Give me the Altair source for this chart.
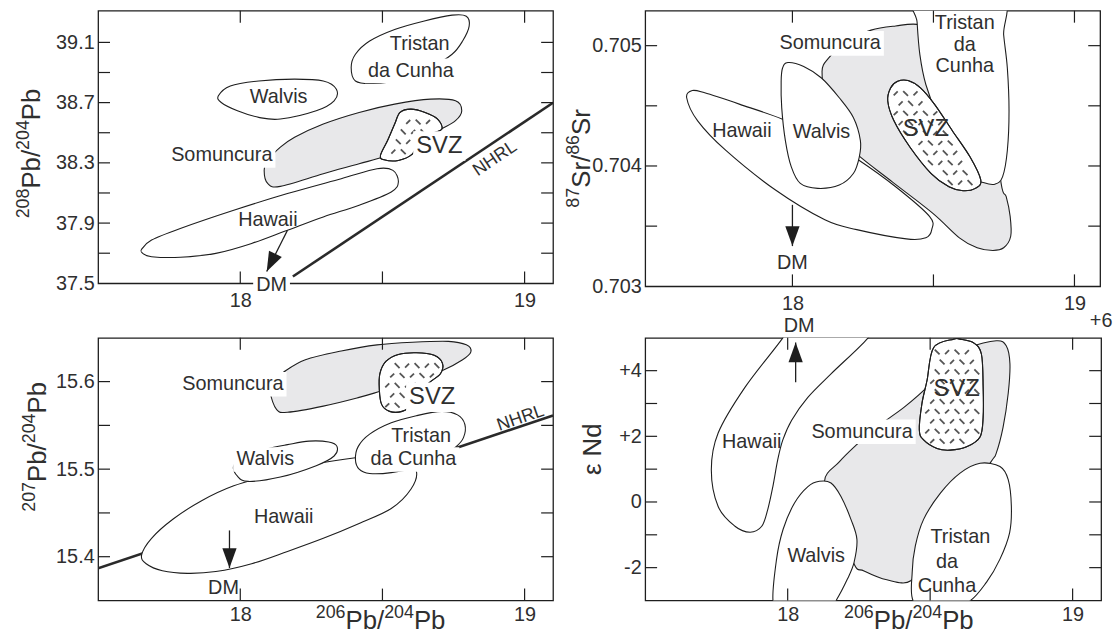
import altair as alt
import numpy as np
import pandas as pd

FONT = "Liberation Sans"
INK = "#1e1e1e"
TXT = "#2f2f2f"
GRAY = "#e8e8ea"
PAT = "#555555"

# ---------------- Panel A: 208Pb/204Pb vs 206Pb/204Pb ----------------
A_HAWAII_X = [17.653, 17.688, 17.789, 17.977, 18.166, 18.355, 18.481, 18.537, 18.556, 18.531, 18.418, 18.292, 18.166, 18.040, 17.914, 17.789, 17.688, 17.657]
A_HAWAII_Y = [37.726, 37.787, 37.864, 37.985, 38.096, 38.195, 38.261, 38.250, 38.173, 38.107, 38.019, 37.941, 37.853, 37.765, 37.699, 37.673, 37.677, 37.699]
A_WALVIS_X = [17.923, 17.965, 18.065, 18.191, 18.292, 18.338, 18.330, 18.267, 18.141, 18.065, 17.990, 17.933]
A_WALVIS_Y = [38.745, 38.811, 38.844, 38.856, 38.844, 38.789, 38.712, 38.646, 38.591, 38.602, 38.646, 38.701]
A_TRISTAN_X = [18.390, 18.405, 18.455, 18.543, 18.644, 18.745, 18.795, 18.805, 18.782, 18.745, 18.669, 18.569, 18.468, 18.405]
A_TRISTAN_Y = [38.933, 39.021, 39.109, 39.186, 39.241, 39.281, 39.274, 39.208, 39.109, 39.021, 38.933, 38.856, 38.827, 38.844]
A_SOMUN_X = [18.084, 18.097, 18.141, 18.292, 18.418, 18.506, 18.606, 18.707, 18.757, 18.779, 18.757, 18.669, 18.543, 18.418, 18.292, 18.191, 18.141, 18.097]
A_SOMUN_Y = [38.250, 38.162, 38.144, 38.228, 38.294, 38.342, 38.426, 38.525, 38.580, 38.646, 38.712, 38.723, 38.690, 38.635, 38.558, 38.470, 38.404, 38.316]
A_SVZ_X = [18.493, 18.518, 18.543, 18.562, 18.600, 18.650, 18.694, 18.709, 18.669, 18.625, 18.606, 18.556, 18.506]
A_SVZ_Y = [38.349, 38.448, 38.558, 38.635, 38.657, 38.635, 38.591, 38.525, 38.492, 38.437, 38.360, 38.316, 38.320]
A_NHRL_X = [18.185, 19.100]
A_NHRL_Y = [37.545, 38.699]
A_LAB_T = ["Tristan", "da Cunha", "Walvis", "Somuncura", "SVZ", "Hawaii", "DM"]
A_LAB_X = [18.631, 18.600, 18.135, 17.935, 18.700, 18.097, 18.110]
A_LAB_Y = [39.087, 38.911, 38.734, 38.349, 38.412, 37.919, 37.490]
A_NHRL_LAB = ("NHRL", 18.896, 38.327)
A_ARROW = (18.166, 37.853, 18.093, 37.578)

# ---------------- Panel B: 87Sr/86Sr vs 206Pb/204Pb ----------------
B_HAWAII_X = [17.625, 17.645, 17.689, 17.814, 17.965, 18.103, 18.228, 18.366, 18.486, 18.494, 18.473, 18.404, 18.228, 18.115, 17.940, 17.764, 17.664]
B_HAWAII_Y = [0.704567, 0.704627, 0.704608, 0.704512, 0.704389, 0.704238, 0.704060, 0.703827, 0.703581, 0.703471, 0.703403, 0.703394, 0.703471, 0.703553, 0.703800, 0.704129, 0.704375]
B_WALVIS_X = [17.984, 18.040, 18.103, 18.166, 18.216, 18.241, 18.237, 18.216, 18.166, 18.090, 18.028, 17.996, 17.975, 17.962, 17.960, 17.965]
B_WALVIS_Y = [0.704860, 0.704827, 0.704731, 0.704567, 0.704403, 0.704211, 0.704074, 0.703937, 0.703841, 0.703814, 0.703855, 0.703992, 0.704211, 0.704485, 0.704704, 0.704814]
B_TRISTAN_X = [18.439, 18.442, 18.452, 18.473, 18.517, 18.580, 18.642, 18.680, 18.718, 18.745, 18.762, 18.768, 18.762, 18.749, 18.737]
B_TRISTAN_Y = [0.705416, 0.705197, 0.704923, 0.704677, 0.704403, 0.704129, 0.703909, 0.703860, 0.703849, 0.703909, 0.704129, 0.704458, 0.704814, 0.705088, 0.705416]
B_SOMUN_X = [18.105, 18.128, 18.191, 18.279, 18.366, 18.454, 18.605, 18.705, 18.740, 18.758, 18.772, 18.774, 18.749, 18.711, 18.655, 18.592, 18.497, 18.354, 18.230, 18.166, 18.122]
B_SOMUN_Y = [0.704786, 0.704896, 0.705033, 0.705129, 0.705164, 0.705175, 0.705088, 0.704540, 0.703855, 0.703745, 0.703581, 0.703416, 0.703320, 0.703298, 0.703320, 0.703403, 0.703608, 0.703868, 0.704096, 0.704266, 0.704540]
B_SVZ_X = [18.348, 18.373, 18.410, 18.454, 18.504, 18.567, 18.630, 18.668, 18.649, 18.605, 18.555, 18.492, 18.417, 18.360, 18.338]
B_SVZ_Y = [0.704649, 0.704704, 0.704710, 0.704649, 0.704512, 0.704293, 0.704074, 0.703882, 0.703814, 0.703794, 0.703827, 0.703937, 0.704156, 0.704375, 0.704540]
B_LAB_T = ["Somuncura", "Tristan", "da", "Cunha", "Hawaii", "Walvis", "SVZ", "DM"]
B_LAB_X = [18.134, 18.611, 18.611, 18.611, 17.821, 18.103, 18.473, 18.000]
B_LAB_Y = [0.705019, 0.705184, 0.705005, 0.704827, 0.704293, 0.704279, 0.704307, 0.703197]
B_ARROW = (18.000, 0.703677, 18.000, 0.703334)

# ---------------- Panel C: 207Pb/204Pb vs 206Pb/204Pb ----------------
C_HAWAII_X = [17.653, 17.688, 17.764, 17.864, 17.977, 18.116, 18.267, 18.405, 18.493, 18.569, 18.619, 18.600, 18.531, 18.418, 18.292, 18.166, 18.040, 17.914, 17.814, 17.726, 17.669]
C_HAWAII_Y = [15.402, 15.421, 15.443, 15.464, 15.481, 15.494, 15.506, 15.513, 15.515, 15.511, 15.498, 15.477, 15.455, 15.438, 15.421, 15.406, 15.392, 15.383, 15.381, 15.384, 15.392]
C_WALVIS_X = [17.977, 17.990, 18.028, 18.141, 18.267, 18.330, 18.340, 18.311, 18.242, 18.166, 18.091, 18.015]
C_WALVIS_Y = [15.504, 15.492, 15.486, 15.491, 15.504, 15.515, 15.526, 15.531, 15.532, 15.528, 15.523, 15.515]
C_TRISTAN_X = [18.405, 18.415, 18.455, 18.531, 18.619, 18.707, 18.764, 18.790, 18.785, 18.757, 18.694, 18.619, 18.531, 18.455, 18.418]
C_TRISTAN_Y = [15.511, 15.526, 15.540, 15.553, 15.561, 15.566, 15.562, 15.551, 15.536, 15.525, 15.511, 15.502, 15.496, 15.495, 15.500]
C_SOMUN_X = [18.106, 18.128, 18.166, 18.292, 18.418, 18.493, 18.606, 18.713, 18.782, 18.811, 18.795, 18.732, 18.606, 18.481, 18.355, 18.229, 18.153, 18.116]
C_SOMUN_Y = [15.587, 15.568, 15.565, 15.572, 15.582, 15.589, 15.600, 15.613, 15.625, 15.634, 15.642, 15.646, 15.645, 15.642, 15.635, 15.625, 15.611, 15.600]
C_SVZ_X = [18.489, 18.491, 18.512, 18.556, 18.619, 18.682, 18.711, 18.704, 18.669, 18.631, 18.606, 18.569, 18.525, 18.497]
C_SVZ_Y = [15.591, 15.609, 15.623, 15.631, 15.633, 15.630, 15.621, 15.609, 15.600, 15.589, 15.574, 15.566, 15.566, 15.574]
C_NHRL_X = [17.500, 19.100]
C_NHRL_Y = [15.3867, 15.5613]
C_LAB_T = ["Somuncura", "SVZ", "Walvis", "Tristan", "da Cunha", "Hawaii", "DM"]
C_LAB_X = [17.974, 18.675, 18.088, 18.636, 18.609, 18.153, 17.941]
C_LAB_Y = [15.597, 15.582, 15.511, 15.538, 15.511, 15.445, 15.364]
C_NHRL_LAB = ("NHRL", 18.986, 15.558)
C_ARROW = (17.962, 15.430, 17.962, 15.387)

# ---------------- Panel D: epsilon Nd vs 206Pb/204Pb ----------------
D_HAWAII_X = [18.007, 17.983, 17.850, 17.756, 17.732, 17.756, 17.815, 17.868, 17.909, 17.930, 17.948, 17.965, 17.983, 18.014, 18.070, 18.153, 18.279, 18.303]
D_HAWAII_Y = [5.45, 5.00, 3.49, 2.10, 0.98, -0.14, -0.74, -0.92, -0.74, -0.23, 0.47, 1.28, 1.89, 2.49, 3.18, 3.91, 4.97, 5.45]
D_SOMUN_X = [18.129, 18.181, 18.240, 18.307, 18.408, 18.495, 18.547, 18.634, 18.732, 18.767, 18.780, 18.774, 18.756, 18.732, 18.711, 18.582, 18.488, 18.432, 18.348, 18.268, 18.233, 18.181]
D_SOMUN_Y = [0.62, 1.22, 1.73, 2.25, 2.88, 3.55, 4.15, 4.69, 4.91, 4.76, 4.21, 3.31, 2.28, 1.49, 1.19, -0.53, -1.53, -2.40, -2.37, -2.10, -1.89, -0.53]
D_SVZ_X = [18.582, 18.512, 18.489, 18.471, 18.462, 18.477, 18.524, 18.570, 18.628, 18.675, 18.686, 18.686, 18.680, 18.652, 18.605]
D_SVZ_Y = [4.96, 4.70, 3.70, 2.99, 2.19, 1.89, 1.63, 1.58, 1.68, 1.98, 2.59, 3.50, 4.50, 4.85, 4.96]
D_TRISTAN_X = [18.675, 18.745, 18.774, 18.785, 18.779, 18.745, 18.698, 18.634, 18.536, 18.443, 18.437, 18.448, 18.477, 18.536, 18.605]
D_TRISTAN_Y = [1.18, 1.08, 0.68, -0.13, -0.93, -1.74, -2.44, -3.05, -3.31, -3.05, -2.14, -1.34, -0.53, 0.27, 0.88]
D_WALVIS_X = [17.949, 17.961, 17.984, 18.024, 18.071, 18.111, 18.152, 18.187, 18.222, 18.243, 18.233, 18.210, 18.170, 18.139, 17.990]
D_WALVIS_Y = [-3.05, -1.74, -0.83, -0.03, 0.47, 0.63, 0.58, 0.17, -0.53, -1.14, -1.84, -2.34, -3.00, -3.34, -3.34]
D_LAB_T = ["DM", "Hawaii", "Somuncura", "SVZ", "Walvis", "Tristan", "da", "Cunha", "+6"]
D_LAB_X = [18.040, 17.874, 18.261, 18.593, 18.100, 18.606, 18.559, 18.559, 19.100]
D_LAB_Y = [5.36, 1.83, 2.14, 3.45, -1.64, -1.08, -1.84, -2.55, 5.50]
D_ARROW = (18.028, 3.65, 18.028, 4.86)

# axis titles: (text, is_superscript) pieces
T_PB208 = [("208", True), ("Pb", False), ("/", False), ("204", True), ("Pb", False)]
T_SR = [("87", True), ("Sr", False), ("/", False), ("86", True), ("Sr", False)]
T_PB207 = [("207", True), ("Pb", False), ("/", False), ("204", True), ("Pb", False)]
T_PB206 = [("206", True), ("Pb", False), ("/", False), ("204", True), ("Pb", False)]
T_END = [("ε Nd", False)]

# ---------------- geometry / styling ----------------
PANELS = {
    "A": dict(xd=[17.5, 19.1], yd=[37.5, 39.31], w=459, h=275,
              yvals=[37.5, 37.9, 38.3, 38.7, 39.1], yfmt=".1f",
              xticks=[18, 18.5, 19], yticks=[37.7, 37.9, 38.1, 38.3, 38.5, 38.7, 38.9, 39.1],
              ytitle=T_PB208, ytx=-59, yty=144, xtitle=None, xlp=7),
    "B": dict(xd=[17.478, 19.091], yd=[0.703, 0.70529], w=459, h=278,
              yvals=[0.703, 0.704, 0.705], yfmt=".3f",
              xticks=[18, 18.5, 19], yticks=[0.7035, 0.704, 0.7045, 0.705],
              ytitle=T_SR, ytx=-56, yty=149, xtitle=None, xlp=7),
    "C": dict(xd=[17.5, 19.1], yd=[15.35, 15.65], w=459, h=265,
              yvals=[15.4, 15.5, 15.6], yfmt=".1f",
              xticks=[18, 18.5, 19], yticks=[15.4, 15.45, 15.5, 15.55, 15.6],
              ytitle=T_PB207, ytx=-53, yty=110, xtitle=T_PB206, xtx=285, xlp=4),
    "D": dict(xd=[17.5, 19.1], yd=[-3, 5], w=460, h=265,
              yvals=[-2, 0, 2, 4], yfmt="d",
              xticks=[18, 18.5, 19], yticks=[-2, -1, 0, 1, 2, 3, 4],
              ytitle=T_END, ytx=-45, yty=111, xtitle=T_PB206, xtx=266, xlp=4),
}
TL = 12
LAB_FS = 20
SVZ_FS = 24
NHRL_FS = 18
TITLE_FS = 26
SUP_FS = 18
SUP_RAISE = 11

CW = {"S": .667, "o": .556, "m": .833, "u": .556, "n": .556, "c": .5, "r": .333, "a": .556,
      "V": .667, "Z": .611, "W": .944, "l": .222, "v": .5, "i": .222, "s": .5, "D": .722,
      "M": .833, "d": .556, "C": .722, "h": .556, "T": .611, "t": .278, "H": .722, "w": .722,
      " ": .278, "P": .667, "b": .556, "/": .278, "N": .722}


def tw(t, fs):
    return sum(CW.get(ch, 0.556) for ch in t) * fs


def xenc(p, field="x"):
    return alt.X(f"{field}:Q", scale=alt.Scale(domain=p["xd"], nice=False, zero=False),
                 axis=alt.Axis(values=[18, 19], format="d", labelPadding=p["xlp"], labelFontSize=20),
                 title=None)


def yenc(p, field="y"):
    kw = dict(values=p["yvals"], format=p["yfmt"], labelPadding=4, labelFontSize=20)
    if p["yfmt"] == "d":
        kw["labelExpr"] = "datum.value > 0 ? '+' + datum.value : '' + datum.value"
    return alt.Y(f"{field}:Q", scale=alt.Scale(domain=p["yd"], nice=False, zero=False),
                 axis=alt.Axis(**kw), title=None)


def title_layers(pieces, cx, cy, vertical):
    sizes = [SUP_FS if s else TITLE_FS for _, s in pieces]
    total = sum(tw(t, fs) for (t, _), fs in zip(pieces, sizes))
    out = []
    cur = (cy + total / 2) if vertical else (cx - total / 2)
    for (t, sup), fs in zip(pieces, sizes):
        df = pd.DataFrame({"t": [t]})
        if vertical:
            xv, yv = cx - (SUP_RAISE if sup else 0), cur
        else:
            xv, yv = cur, cy - (SUP_RAISE if sup else 0)
        out.append(alt.Chart(df).mark_text(font=FONT, fontSize=fs, color=TXT, align="left",
                                           baseline="alphabetic", angle=270 if vertical else 0).encode(
            text="t:N", x=alt.value(xv), y=alt.value(yv)))
        cur = cur - tw(t, fs) if vertical else cur + tw(t, fs)
    return out


def inside(px, py, poly):
    c = False
    n = len(poly)
    for k in range(n):
        x1, y1 = poly[k]
        x2, y2 = poly[(k + 1) % n]
        if (y1 > py) != (y2 > py):
            xi = x1 + (py - y1) * (x2 - x1) / (y2 - y1)
            if px < xi:
                c = not c
    return c


def pattern(p, xs, ys, step=10.0, margin=4.0):
    W, H = p["w"], p["h"]
    x0, x1 = p["xd"]
    y0, y1 = p["yd"]
    pxs = [(x - x0) / (x1 - x0) * W for x in xs]
    pys = [(y1 - y) / (y1 - y0) * H for y in ys]
    poly = list(zip(pxs, pys))
    rows = []
    for j, gy in enumerate(np.arange(min(pys) + 3, max(pys), step)):
        for i, gx in enumerate(np.arange(min(pxs) + 3 + (j % 2) * step / 2, max(pxs), step)):
            if gy < 4 or gy > H - 4:
                continue
            if all(inside(gx + dx, gy + dy, poly) for dx, dy in
                   [(0, 0), (margin, 0), (-margin, 0), (0, margin), (0, -margin)]):
                rows.append({"x": x0 + gx / W * (x1 - x0), "y": y1 - gy / H * (y1 - y0), "k": (i + j) % 2})
    return pd.DataFrame(rows)


def shape_layer(p, xs, ys, fill):
    df = pd.DataFrame({"x": xs, "y": ys, "i": list(range(len(xs)))})
    return alt.Chart(df).mark_line(interpolate="cardinal-closed", fill=fill, stroke=INK,
                                   strokeWidth=1.1, clip=True).encode(
        x=xenc(p), y=yenc(p), order=alt.Order("i:Q"))


def build_panel(key, shapes, svz, labels, boxed, arrow, angle, nhrl=None, nhrl_lab=None, nhrl_ang=0):
    p = PANELS[key]
    W, H = p["w"], p["h"]
    x0, x1 = p["xd"]
    y0, y1 = p["yd"]
    layers = []
    if nhrl is not None:
        ndf = pd.DataFrame({"x": nhrl[0], "y": nhrl[1], "i": [0, 1]})
        layers.append(alt.Chart(ndf).mark_line(color="#2a2a2a", strokeWidth=2.6, clip=True).encode(
            x=xenc(p), y=yenc(p), order=alt.Order("i:Q")))
    for xs, ys, fill in shapes:
        layers.append(shape_layer(p, xs, ys, fill))
    layers.append(shape_layer(p, svz[0], svz[1], "white"))
    pat = pattern(p, svz[0], svz[1])
    for k, path, sz in [(0, "M-1,-1L1,1", 24), (1, "M-1,1L1,-1", 16)]:
        sub = pat[pat["k"] == k]
        layers.append(alt.Chart(sub).mark_point(shape=path, size=sz, filled=False, color=PAT,
                                                strokeWidth=1.8, opacity=1).encode(x=xenc(p), y=yenc(p)))
    layers.append(shape_layer(p, svz[0], svz[1], "transparent"))
    adf = pd.DataFrame({"x": [arrow[0]], "y": [arrow[1]], "xb": [arrow[2]], "yb": [arrow[3]]})
    layers.append(alt.Chart(adf).mark_rule(color=INK, strokeWidth=1.3).encode(
        x=xenc(p), y=yenc(p), x2=alt.X2("xb:Q"), y2=alt.Y2("yb:Q")))
    layers.append(alt.Chart(adf).mark_point(shape="M0,0L-0.36,-1L0.36,-1Z", size=1600, filled=True,
                                            color=INK, opacity=1, angle=angle).encode(
        x=xenc(p, "xb"), y=yenc(p, "yb")))
    xt = pd.DataFrame({"x": p["xticks"]})
    yt = pd.DataFrame({"y": p["yticks"]})
    layers.append(alt.Chart(xt).mark_rule(color=INK, strokeWidth=1.2).encode(
        x=xenc(p), y=alt.value(0), y2=alt.value(TL)))
    layers.append(alt.Chart(xt).mark_rule(color=INK, strokeWidth=1.2).encode(
        x=xenc(p), y=alt.value(H - TL), y2=alt.value(H)))
    layers.append(alt.Chart(yt).mark_rule(color=INK, strokeWidth=1.2).encode(
        y=yenc(p), x=alt.value(0), x2=alt.value(TL)))
    layers.append(alt.Chart(yt).mark_rule(color=INK, strokeWidth=1.2).encode(
        y=yenc(p), x=alt.value(W - TL), x2=alt.value(W)))
    T, LX, LY = labels
    rows = []
    for t, lx, ly in zip(T, LX, LY):
        fs = SVZ_FS if t == "SVZ" else LAB_FS
        rows.append({"t": t, "x": lx, "y": ly, "fs": fs})
    ldf = pd.DataFrame(rows)
    brow = []
    for r in rows:
        if r["t"] in boxed:
            hw = (tw(r["t"], r["fs"]) / 2 + 3) / W * (x1 - x0)
            hh = (r["fs"] * 0.62) / H * (y1 - y0)
            brow.append({"bx0": r["x"] - hw, "bx1": r["x"] + hw, "by0": r["y"] - hh, "by1": r["y"] + hh})
    if brow:
        bdf = pd.DataFrame(brow)
        layers.append(alt.Chart(bdf).mark_rect(color="white").encode(
            x=xenc(p, "bx0"), x2=alt.X2("bx1:Q"), y=yenc(p, "by0"), y2=alt.Y2("by1:Q")))
    for fs in sorted(set(ldf["fs"])):
        sub = ldf[ldf["fs"] == fs]
        layers.append(alt.Chart(sub).mark_text(font=FONT, fontSize=fs, color=TXT, align="center",
                                               baseline="middle").encode(
            x=xenc(p), y=yenc(p), text="t:N"))
    if nhrl_lab is not None:
        ndf2 = pd.DataFrame({"t": [nhrl_lab[0]], "x": [nhrl_lab[1]], "y": [nhrl_lab[2]]})
        layers.append(alt.Chart(ndf2).mark_text(font=FONT, fontSize=NHRL_FS, color=TXT, align="center",
                                                baseline="middle", angle=nhrl_ang).encode(
            x=xenc(p), y=yenc(p), text="t:N"))
    layers += title_layers(p["ytitle"], p["ytx"], p["yty"], True)
    if p["xtitle"]:
        layers += title_layers(p["xtitle"], p["xtx"], H + 29, False)
    return alt.layer(*layers).properties(width=W, height=H)


pA = build_panel("A",
                 [(A_HAWAII_X, A_HAWAII_Y, "white"), (A_WALVIS_X, A_WALVIS_Y, "white"),
                  (A_TRISTAN_X, A_TRISTAN_Y, "white"), (A_SOMUN_X, A_SOMUN_Y, GRAY)],
                 (A_SVZ_X, A_SVZ_Y), (A_LAB_T, A_LAB_X, A_LAB_Y),
                 {"Somuncura", "SVZ", "da Cunha", "DM"}, A_ARROW, 26,
                 nhrl=(A_NHRL_X, A_NHRL_Y), nhrl_lab=A_NHRL_LAB, nhrl_ang=326)

pB = build_panel("B",
                 [(B_SOMUN_X, B_SOMUN_Y, GRAY), (B_HAWAII_X, B_HAWAII_Y, "white"),
                  (B_WALVIS_X, B_WALVIS_Y, "white"), (B_TRISTAN_X, B_TRISTAN_Y, "white")],
                 (B_SVZ_X, B_SVZ_Y), (B_LAB_T, B_LAB_X, B_LAB_Y),
                 {"Somuncura"}, B_ARROW, 0)

pC = build_panel("C",
                 [(C_HAWAII_X, C_HAWAII_Y, "white"), (C_WALVIS_X, C_WALVIS_Y, "white"),
                  (C_TRISTAN_X, C_TRISTAN_Y, "white"), (C_SOMUN_X, C_SOMUN_Y, GRAY)],
                 (C_SVZ_X, C_SVZ_Y), (C_LAB_T, C_LAB_X, C_LAB_Y),
                 {"Somuncura", "SVZ", "Walvis", "da Cunha"}, C_ARROW, 0,
                 nhrl=(C_NHRL_X, C_NHRL_Y), nhrl_lab=C_NHRL_LAB, nhrl_ang=341)

pD = build_panel("D",
                 [(D_SOMUN_X, D_SOMUN_Y, GRAY), (D_HAWAII_X, D_HAWAII_Y, "white"),
                  (D_WALVIS_X, D_WALVIS_Y, "white"), (D_TRISTAN_X, D_TRISTAN_Y, "white")],
                 (D_SVZ_X, D_SVZ_Y), (D_LAB_T, D_LAB_X, D_LAB_Y),
                 {"Somuncura"}, D_ARROW, 180)

chart = alt.concat(pA, pB, pC, pD, columns=2, spacing={"row": 52, "column": 93},
                   bounds="flush").properties(
    padding={"left": 14, "top": 6, "right": 0, "bottom": 0},
    background="white",
).configure_view(stroke=INK, strokeWidth=1.3).configure_axis(
    domain=False, grid=False, ticks=False, labelFont=FONT, labelColor=TXT,
)

chart.save("out.html", embed_options={"renderer": "svg", "actions": False})
